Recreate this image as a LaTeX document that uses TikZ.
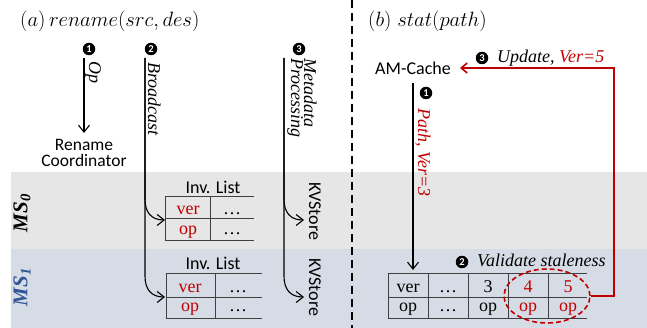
\documentclass[tikz,border=0pt]{standalone}
\usepackage{fontspec}
\setmainfont{Liberation Serif}
\newfontfamily\calfont{Carlito}
\usetikzlibrary{arrows.meta,shapes.geometric}
\definecolor{dred}{HTML}{C00000}
\definecolor{bandgray}{HTML}{E7E6E6}
\definecolor{bandblue}{HTML}{D6DCE5}
\definecolor{msblue}{HTML}{2F5597}
\definecolor{gridline}{HTML}{404040}
\begin{document}
\begin{tikzpicture}[x=1pt,y=-1pt,
  lbl/.style={font=\calfont\fontsize{18}{15}\selectfont, inner sep=0},
  tms/.style={font=\fontsize{18}{15}\selectfont, inner sep=0, anchor=base},
  itl/.style={font=\itshape\fontsize{18}{15}\selectfont, inner sep=0},
  ttl/.style={font=\fontsize{22.5}{22.5}\selectfont, inner sep=0, anchor=base west},
  mslbl/.style={font=\bfseries\itshape\fontsize{21}{21}\selectfont, inner sep=0, rotate=90},
  numdot/.style={circle, fill=black, text=white, inner sep=0, minimum size=12.5pt,
    font=\calfont\bfseries\fontsize{10.5}{10.5}\selectfont},
  conn/.style={line width=1.1pt, -{Straight Barb[length=7pt,width=11pt,line width=1.1pt]}},
  redconn/.style={dred, line width=2pt, -{Straight Barb[length=6pt,width=10pt,line width=1.6pt]}},
  tline/.style={gridline, line width=1pt},
]
\useasboundingbox (0,0) rectangle (647,328);

% metadata-server bands
\fill[bandgray] (11,172) rectangle (647,249);
\fill[bandblue] (11,249) rectangle (647,328);
\node[mslbl] (ms0) at (22,213) {MS\textsubscript{0}};
\node[mslbl, text=msblue] (ms1) at (22,287) {MS\textsubscript{1}};

% separator between the two panels
\coordinate (sepTop) at (352,0);
\coordinate (sepBot) at (352,328);
\draw[line width=2.6pt, dash pattern=on 8pt off 5pt] (sepTop) -- (sepBot);

% ---------------- (a) rename ----------------
\node[ttl] (ttlA) at (20,27) {$(a)\,rename(src,des)$};

\node[numdot] (a1) at (89,49) {1};
\node[numdot] (a2) at (151,49) {2};
\node[numdot] (a3) at (299,49) {3};

\coordinate (opTop) at (84,58);
\coordinate (bcTop) at (145,58);
\coordinate (mdTop) at (284,58);

\node[itl, rotate=-90, anchor=base west] (opL) at (89,61) {Op};
\node[itl, rotate=-90, anchor=base west] (bcL) at (148,62) {Broadcast};
\node[itl, rotate=-90, anchor=base west] (mdL1) at (304,58) {Metadata};
\node[itl, rotate=-90, anchor=base west] (mdL2) at (291,58) {Processing};

\node[lbl, align=center, anchor=north, font=\calfont\fontsize{17.5}{16}\selectfont]
  (coord) at (84,139) {Rename\\Coordinator};

% inverted lists
\node[lbl, anchor=base] (inv0lbl) at (213,194) {Inv. List};
\draw[tline] (165,197) -- (254,197) (165,219) -- (254,219) (165,241) -- (254,241)
             (165,197) -- (165,241) (210,197) -- (210,241);
\node[tms, text=dred] (v0) at (188,215) {ver};
\node[tms] (d0a) at (232,215) {…};
\node[tms, text=dred] (o0) at (188,235) {op};
\node[tms] (d0b) at (232,235) {…};

\node[lbl, anchor=base] (inv1lbl) at (213,270) {Inv. List};
\draw[tline] (166,274) -- (262,274) (166,297) -- (262,297) (166,318) -- (262,318)
             (166,274) -- (166,318) (215,274) -- (215,318);
\node[tms, text=dred] (v1) at (190,292) {ver};
\node[tms] (d1a) at (238,292) {…};
\node[tms, text=dred] (o1) at (190,312) {op};
\node[tms] (d1b) at (238,312) {…};

\node[lbl, rotate=-90, anchor=base west] (kv0) at (309,182) {KVStore};
\node[lbl, rotate=-90, anchor=base west] (kv1) at (309,258) {KVStore};

\coordinate (inv0) at (165,220);
\coordinate (inv1) at (165,297);
\coordinate (kvIn0) at (304,220);
\coordinate (kvIn1) at (304,297);

\draw[conn] (opTop) -- ([yshift=6pt]coord.north);
\draw[conn] (bcTop) -- (145,199) .. controls (145,212) and (151,220) .. (inv0);
\draw[conn] (bcTop) -- (145,276) .. controls (145,289) and (151,297) .. (inv1);
\draw[conn] (mdTop) -- (284,199) .. controls (284,212) and (290,220) .. (kvIn0);
\draw[conn] (mdTop) -- (284,276) .. controls (284,289) and (290,297) .. (kvIn1);

% ---------------- (b) stat ----------------
\node[ttl] (ttlB) at (368,27) {$(b)\;stat(path)$};

\node[lbl] (amc) at (413,68) {AM-Cache};

\node[numdot] (b1) at (426,93) {1};
\node[itl, rotate=-90, anchor=base west, text=dred] (pathL) at (418,108) {Path, Ver=3};

\node[numdot] (b2) at (462,262) {2};
\node[itl, anchor=base west] (valL) at (477,267) {Validate staleness};

\node[numdot] (b3) at (482,58) {3};
\node[itl, anchor=base west] (updL) at (497,63) {Update, \textcolor{dred}{Ver=5}};

% version list of the cached entry
\draw[tline] (388,274) -- (587,274) (388,297) -- (587,297) (388,318) -- (587,318);
\foreach \xx in {388,428,468,508,548} \draw[tline] (\xx,274) -- (\xx,318);
\node[tms] (c1) at (408,292) {ver};
\node[tms] (c2) at (448,292) {…};
\node[tms] (c3) at (488,292) {3};
\node[tms, text=dred] (c4) at (528,292) {4};
\node[tms, text=dred] (c5) at (568,292) {5};
\node[tms] (e1) at (408,312) {op};
\node[tms] (e2) at (448,312) {…};
\node[tms] (e3) at (488,312) {op};
\node[tms, text=dred] (e4) at (528,312) {op};
\node[tms, text=dred] (e5) at (568,312) {op};

\node[draw=dred, ellipse, dash pattern=on 5pt off 3pt, line width=1.6pt,
      minimum width=86pt, minimum height=54pt, inner sep=0] (ell) at (547,296) {};

\coordinate (verTop) at (413,270);
\draw[conn] ([yshift=-15pt]amc.center) -- (verTop);
\draw[redconn] (ell.east) -| (614,68) -- ([xshift=9pt]amc.east);
\end{tikzpicture}
\end{document}
